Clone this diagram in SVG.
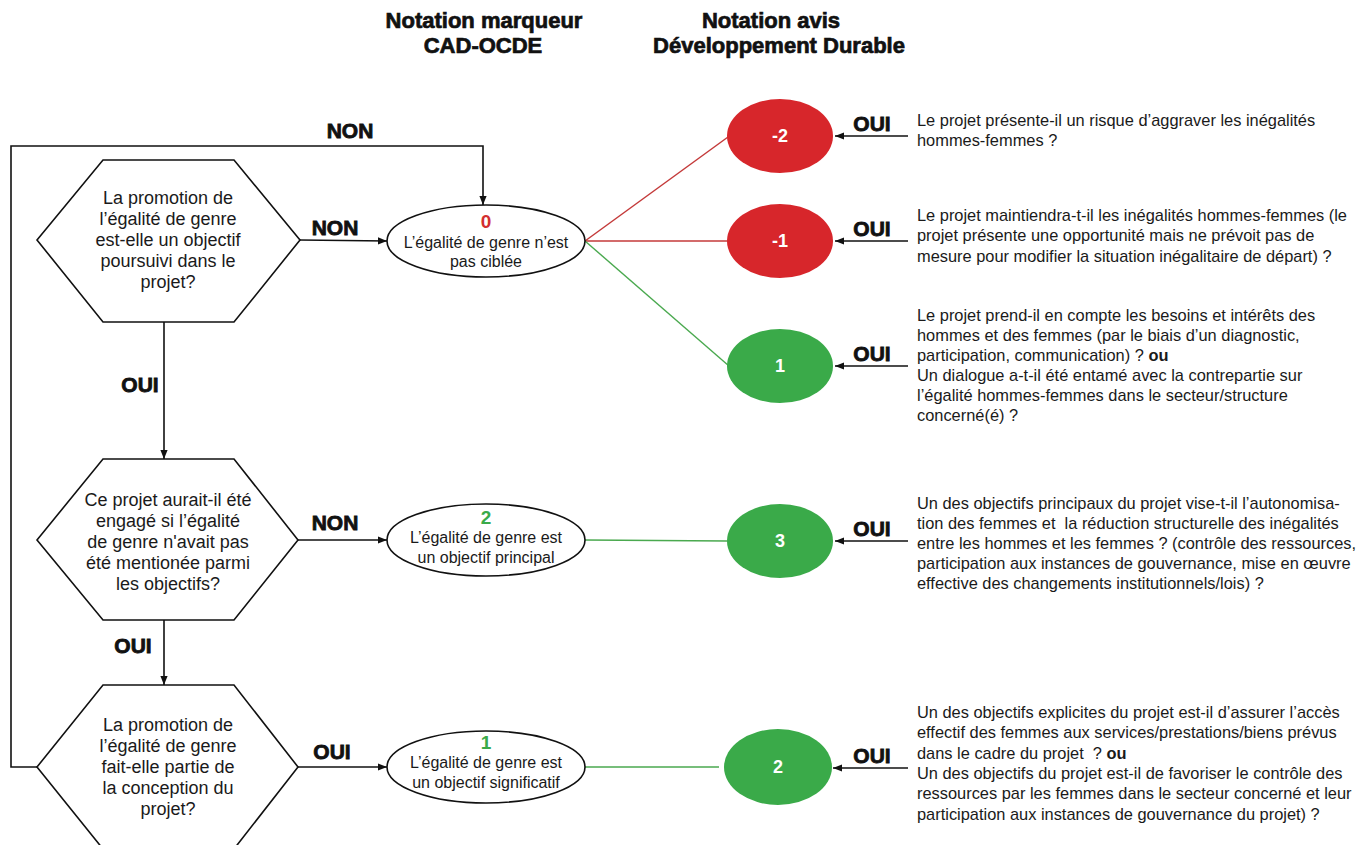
<svg xmlns="http://www.w3.org/2000/svg" width="1362" height="845" viewBox="0 0 1362 845">
<style>
.bg{fill:#fff}
.hex{fill:#fff;stroke:#111;stroke-width:1.6}
.ell{fill:#fff;stroke:#111;stroke-width:1.6}
.red{fill:#d7262b}
.grn{fill:#3aaa49}
.ln{fill:none;stroke:#111;stroke-width:1.6}
.rl{stroke:#c43a3a;stroke-width:1.4}
.gl{stroke:#4aa94f;stroke-width:1.4}
.t{font-family:"Liberation Sans",Arial,sans-serif;fill:#1a1a1a}
.q{font-size:18px;text-anchor:middle}
.e{font-size:16px;text-anchor:middle}
.r{font-size:16.4px}
.lb{font-family:"Liberation Sans",Arial,sans-serif;font-weight:bold;font-size:21px;fill:#111;stroke:#111;stroke-width:0.8;text-anchor:middle}
.num{font-family:"Liberation Sans",Arial,sans-serif;font-weight:bold;font-size:19px;text-anchor:middle}
.cn{font-family:"Liberation Sans",Arial,sans-serif;font-weight:bold;font-size:18px;fill:#fff;text-anchor:middle}
.hd{font-family:"Liberation Sans",Arial,sans-serif;font-weight:bold;font-size:22px;fill:#111;stroke:#111;stroke-width:0.7;text-anchor:middle}
</style>
<defs>
<marker id="ah" viewBox="0 0 10 10" refX="10" refY="5" markerWidth="9" markerHeight="9" markerUnits="userSpaceOnUse" orient="auto">
<path d="M0,1 L10,5 L0,9 Z" fill="#111"/>
</marker>
</defs>
<rect class="bg" x="0" y="0" width="1362" height="845"/>

<g id="headers">
<text class="hd" x="484" y="28">Notation marqueur</text>
<text class="hd" x="483" y="53">CAD-OCDE</text>
<text class="hd" x="771" y="28">Notation avis</text>
<text class="hd" x="779" y="53">Développement Durable</text>
</g>

<g id="connectors">
<path class="ln" d="M37,767 H11 V146 H483 V205" marker-end="url(#ah)"/>
<line class="ln" x1="300" y1="240" x2="387" y2="241" marker-end="url(#ah)"/>
<line class="ln" x1="164" y1="322" x2="164" y2="459" marker-end="url(#ah)"/>
<line class="ln" x1="298" y1="540" x2="387" y2="540" marker-end="url(#ah)"/>
<line class="ln" x1="164" y1="620" x2="164" y2="685" marker-end="url(#ah)"/>
<line class="ln" x1="298" y1="767" x2="387" y2="767" marker-end="url(#ah)"/>
<line class="rl" x1="585" y1="241" x2="728" y2="137"/>
<line class="rl" x1="585" y1="241" x2="727" y2="241"/>
<line class="gl" x1="585" y1="241" x2="729" y2="366"/>
<line class="gl" x1="585" y1="540" x2="727" y2="541"/>
<line class="gl" x1="585" y1="767" x2="719" y2="767"/>
<line class="ln" x1="908" y1="136" x2="835" y2="136" marker-end="url(#ah)"/>
<line class="ln" x1="908" y1="241" x2="835" y2="241" marker-end="url(#ah)"/>
<line class="ln" x1="908" y1="366" x2="835" y2="366" marker-end="url(#ah)"/>
<line class="ln" x1="908" y1="541" x2="835" y2="541" marker-end="url(#ah)"/>
<line class="ln" x1="908" y1="768" x2="833" y2="768" marker-end="url(#ah)"/>
<text class="lb" x="350" y="138">NON</text>
<text class="lb" x="335" y="235">NON</text>
<text class="lb" x="140" y="392">OUI</text>
<text class="lb" x="335" y="530">NON</text>
<text class="lb" x="133" y="653">OUI</text>
<text class="lb" x="332" y="759">OUI</text>
<text class="lb" x="872" y="131">OUI</text>
<text class="lb" x="872" y="236">OUI</text>
<text class="lb" x="872" y="361">OUI</text>
<text class="lb" x="872" y="536">OUI</text>
<text class="lb" x="872" y="763">OUI</text>
</g>

<g id="q1">
<polygon class="hex" points="37,240 103,160 234,160 300,240 234,322 103,322"/>
<text class="t q" x="168" y="204">La promotion de</text>
<text class="t q" x="168" y="225">l’égalité de genre</text>
<text class="t q" x="168" y="246">est-elle un objectif</text>
<text class="t q" x="168" y="267">poursuivi dans le</text>
<text class="t q" x="168" y="288">projet?</text>
</g>

<g id="q2">
<polygon class="hex" points="37,540 103,459 234,459 298,540 234,620 103,620"/>
<text class="t q" x="168" y="506">Ce projet aurait-il été</text>
<text class="t q" x="168" y="527">engagé si l’égalité</text>
<text class="t q" x="168" y="548">de genre n'avait pas</text>
<text class="t q" x="168" y="569">été mentionée parmi</text>
<text class="t q" x="168" y="590">les objectifs?</text>
</g>

<g id="q3">
<polygon class="hex" points="37,767 103,685 234,685 298,767 234,849 103,849"/>
<text class="t q" x="168" y="731">La promotion de</text>
<text class="t q" x="168" y="752">l’égalité de genre</text>
<text class="t q" x="168" y="773">fait-elle partie de</text>
<text class="t q" x="168" y="794">la conception du</text>
<text class="t q" x="168" y="815">projet?</text>
</g>

<g id="m0">
<ellipse class="ell" cx="486" cy="241" rx="99" ry="36"/>
<text class="num" x="486" y="228" fill="#d32f2f">0</text>
<text class="t e" x="486" y="248">L’égalité de genre n’est</text>
<text class="t e" x="486" y="267">pas ciblée</text>
</g>

<g id="m2">
<ellipse class="ell" cx="486" cy="540" rx="99" ry="36"/>
<text class="num" x="486" y="524" fill="#3aaa49">2</text>
<text class="t e" x="486" y="543">L’égalité de genre est</text>
<text class="t e" x="486" y="563">un objectif principal</text>
</g>

<g id="m1">
<ellipse class="ell" cx="486" cy="767" rx="99" ry="36"/>
<text class="num" x="486" y="749" fill="#3aaa49">1</text>
<text class="t e" x="486" y="768">L’égalité de genre est</text>
<text class="t e" x="486" y="788">un objectif significatif</text>
</g>

<g id="dm2">
<ellipse class="red" cx="780" cy="136" rx="53" ry="37"/>
<text class="cn" x="780" y="142">-2</text>
</g>
<g id="dm1">
<ellipse class="red" cx="780" cy="241" rx="53" ry="37"/>
<text class="cn" x="780" y="247">-1</text>
</g>
<g id="d1">
<ellipse class="grn" cx="780" cy="366" rx="53" ry="37"/>
<text class="cn" x="780" y="372">1</text>
</g>
<g id="d3">
<ellipse class="grn" cx="780" cy="541" rx="53" ry="37"/>
<text class="cn" x="780" y="547">3</text>
</g>
<g id="d2">
<ellipse class="grn" cx="778" cy="767" rx="54" ry="38"/>
<text class="cn" x="778" y="773">2</text>
</g>

<g id="c1">
<text class="t r" x="917" y="126">Le projet présente-il un risque d’aggraver les inégalités</text>
<text class="t r" x="917" y="146">hommes-femmes ?</text>
</g>
<g id="c2">
<text class="t r" x="917" y="221">Le projet maintiendra-t-il les inégalités hommes-femmes (le</text>
<text class="t r" x="917" y="241">projet présente une opportunité mais ne prévoit pas de</text>
<text class="t r" x="917" y="262">mesure pour modifier la situation inégalitaire de départ) ?</text>
</g>
<g id="c3">
<text class="t r" x="917" y="321">Le projet prend-il en compte les besoins et intérêts des</text>
<text class="t r" x="917" y="341">hommes et des femmes (par le biais d’un diagnostic,</text>
<text class="t r" x="917" y="361">participation, communication) ? <tspan font-weight="bold">ou</tspan></text>
<text class="t r" x="917" y="381">Un dialogue a-t-il été entamé avec la contrepartie sur</text>
<text class="t r" x="917" y="401">l’égalité hommes-femmes dans le secteur/structure</text>
<text class="t r" x="917" y="421">concerné(é) ?</text>
</g>
<g id="c4">
<text class="t r" x="917" y="509">Un des objectifs principaux du projet vise-t-il l’autonomisa-</text>
<text class="t r" x="917" y="529">tion des femmes et &#160;la réduction structurelle des inégalités</text>
<text class="t r" x="917" y="549">entre les hommes et les femmes ? (contrôle des ressources,</text>
<text class="t r" x="917" y="569">participation aux instances de gouvernance, mise en œuvre</text>
<text class="t r" x="917" y="589">effective des changements institutionnels/lois) ?</text>
</g>
<g id="c5">
<text class="t r" x="917" y="718">Un des objectifs explicites du projet est-il d’assurer l’accès</text>
<text class="t r" x="917" y="738">effectif des femmes aux services/prestations/biens prévus</text>
<text class="t r" x="917" y="759">dans le cadre du projet &#160;? <tspan font-weight="bold">ou</tspan></text>
<text class="t r" x="917" y="779">Un des objectifs du projet est-il de favoriser le contrôle des</text>
<text class="t r" x="917" y="799">ressources par les femmes dans le secteur concerné et leur</text>
<text class="t r" x="917" y="820">participation aux instances de gouvernance du projet) ?</text>
</g>
</svg>
